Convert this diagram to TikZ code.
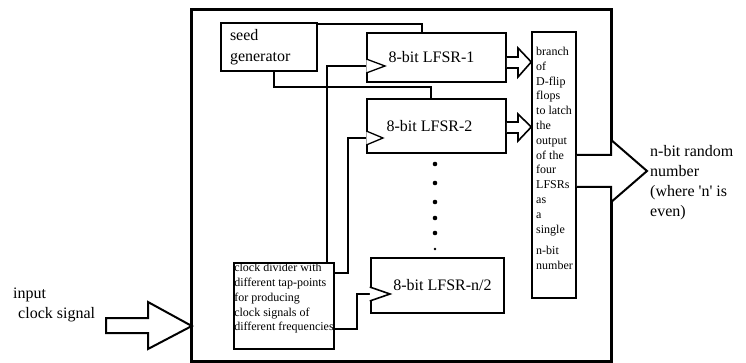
\documentclass[tikz,border=0pt]{standalone}
\usepackage{fontspec}
\setmainfont{Liberation Serif}
\usetikzlibrary{calc}
\begin{document}
\begin{tikzpicture}[x=1pt,y=-1pt,
 box/.style={draw, line width=1.5pt, rectangle, inner sep=0pt},
 big/.style={font=\fontsize{16}{21}\selectfont},
 small/.style={font=\fontsize{12}{14.8}\selectfont},
 wire/.style={line width=1.6pt},
 hollow/.style={line width=1.6pt, fill=white, line join=miter},
 clk/.style={line width=1.3pt, fill=white, line join=miter}]
\useasboundingbox (0,0) rectangle (746,363);

% outer system box (border drawn with a gap for the output arrow)
\node[inner sep=0pt, minimum width=419pt, minimum height=351pt] (sys) at (401.5,185.5) {};
\draw[line width=3pt] (sys.east |- 0,155) -- (sys.north east) -- (sys.north west)
  -- (sys.south west) -- (sys.south east) -- (sys.east |- 0,187);

\node[box, minimum width=96pt, minimum height=48pt, text width=78pt, align=left, big] (seed) at (269,47) {seed\\generator};
\node[box, minimum width=139pt, minimum height=49pt, big] (l1) at (436.5,57.5) {\hspace*{-10pt}8-bit LFSR-1};
\node[box, minimum width=139pt, minimum height=54pt, big] (l2) at (436.5,126) {\hspace*{-14pt}8-bit LFSR-2};
\node[box, line width=2.4pt, minimum width=133pt, minimum height=55pt, big] (ln) at (437.5,285.5) {\hspace*{10pt}8-bit LFSR-n/2};
\node[box, minimum width=100pt, minimum height=86pt, align=left, small] (div) at (284,306) {clock divider with\\different tap-points\\for producing\\clock signals of\\different frequencies\\[3pt]};
\node[box, minimum width=44pt, minimum height=266pt] (latch) at (554,165) {};
\node[small, anchor=north west, align=left, inner sep=0pt] (latchtxt) at (536,47)
 {branch\\of\\D-flip\\flops\\to latch\\the\\output\\of the\\four\\LFSRs\\as\\a\\single\\[7pt]n-bit\\number};

% seed connections
\draw[wire] (seed.east |- 0,24) -- (422,24) -- (l1.north -| 422,0);
\draw[wire] (seed.south -| 274,0) |- (431,87) -- (l2.north -| 431,0);

% clock connections
\draw[wire] (div.north -| 327,0) |- (l1.west |- 0,66);
\draw[wire] (div.east |- 0,273) -| (348,138) -- (l2.west |- 0,138);
\draw[wire, line width=2.4pt] (div.east |- 0,329) -| (357,294) -- (ln.west |- 0,294);

% clock triangles
\draw[clk] (l1.west |- 0,59) -- (385,66) -- (l1.west |- 0,73);
\draw[clk] (l2.west |- 0,131) -- (383,138) -- (l2.west |- 0,145);
\draw[clk, line width=1.6pt] (ln.west |- 0,287) -- (390,294) -- (ln.west |- 0,301);

% hollow arrows LFSR -> latch
\draw[hollow] (l1.east |- 0,57) -- (518,57) -- (518,48) -- (latch.west |- 0,62)
  -- (518,77) -- (518,68) -- (l1.east |- 0,68);
\draw[hollow] (l2.east |- 0,122) -- (518,122) -- (518,114) -- (latch.west |- 0,127)
  -- (518,141) -- (518,133) -- (l2.east |- 0,133);

% dots
\foreach \yy in {164,183,202,218,233} \fill (435,\yy) circle (2.3pt);
\fill (435,249) circle (1.3pt);

% output arrow
\draw[hollow, line width=2pt] (latch.east |- 0,155) -- (sys.east |- 0,155) -- (sys.east |- 0,140)
  -- (647,171) -- (sys.east |- 0,202) -- (sys.east |- 0,187) -- (latch.east |- 0,187);
\node[anchor=west, align=left, inner sep=0pt, font=\fontsize{16}{20}\selectfont] (out) at (650,183)
 {n-bit random\\number\\(where \textquotesingle n\textquotesingle\ is\\even)};

% input arrow
\coordinate (inA) at (106,325.5);
\draw[hollow, line width=2pt] (inA |- 0,318) -- (148,318) -- (148,302) -- (sys.west |- 0,326)
  -- (148,349) -- (148,333) -- (inA |- 0,333) -- cycle;
\node[anchor=west, align=left, inner sep=0pt, font=\fontsize{16}{20}\selectfont] (intxt) at (13,305)
 {input\\\hspace*{5pt}clock signal};
\end{tikzpicture}
\end{document}
